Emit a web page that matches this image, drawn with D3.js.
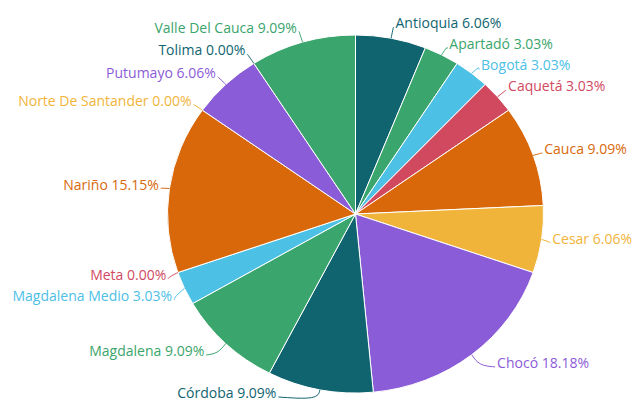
<!DOCTYPE html>
<html>
<head>
<meta charset="utf-8">
<script src="https://cdn.jsdelivr.net/npm/d3@7"></script>
<style>
  html, body { margin: 0; padding: 0; background: #ffffff; }
  svg { display: block; }
  text { font-family: "Open Sans", Roboto, "Noto Sans", sans-serif; }
</style>
</head>
<body>
<div id="chart"></div>
<script>
// ---- data ----
const categories = [
  "Antioquia", "Apartadó", "Bogotá", "Caquetá", "Cauca", "Cesar", "Chocó",
  "Córdoba", "Magdalena", "Magdalena Medio", "Meta", "Nariño",
  "Norte De Santander", "Putumayo", "Tolima", "Valle Del Cauca"
];
const values = [
  6.06, 3.03, 3.03, 3.03, 9.09, 6.06, 18.18,
  9.09, 9.09, 3.03, 0.00, 15.15,
  0.00, 6.06, 0.00, 9.09
];

// ---- style / layout ----
const palette = ["#0f6470", "#3aa56c", "#4dc0e6", "#d1495f", "#d8680a", "#f1b43a", "#8b5cd8"];
const W = 637, H = 403;
const cx = 355.5, cy = 214, rx = 188, ry = 179;
const color = d3.scaleOrdinal().domain(categories).range(palette);

const svg = d3.select("#chart").append("svg")
  .attr("width", W).attr("height", H)
  .attr("viewBox", `0 0 ${W} ${H}`);
svg.append("rect").attr("width", W).attr("height", H).attr("fill", "#fff");

const pie = d3.pie().sort(null).value(d => d.value);
const arcs = pie(categories.map((c, i) => ({ name: c, value: values[i] })));

const arc = d3.arc().innerRadius(0).outerRadius(ry);

const g = svg.append("g")
  .attr("transform", `translate(${cx},${cy}) scale(${rx / ry},1)`);

g.selectAll("path")
  .data(arcs.filter(d => d.data.value > 0))
  .join("path")
  .attr("d", arc)
  .attr("fill", d => color(d.data.name))
  .attr("stroke", "#ffffff")
  .attr("stroke-width", 1)
  .attr("vector-effect", "non-scaling-stroke");

// ---- labels ----
function pt(a, extra) {
  return [cx + (rx + extra) * Math.sin(a), cy - (ry + extra) * Math.cos(a)];
}
const GAP = 21;
const labels = arcs.map(d => {
  const a = (d.startAngle + d.endAngle) / 2;
  const edge = pt(a, 0);
  const extLen = 8 + 5 * Math.abs(Math.cos(a));
  const ext = pt(a, extLen);
  const yRef = pt(a, 13)[1];
  const side = Math.sin(a) >= 0 ? 1 : -1;
  const lowness = Math.max(0, -Math.cos(a));
  const len2 = 1 + 42 * Math.pow(lowness, 4);
  return {
    d, a, edge, ext, side,
    x: ext[0] + side * len2,
    y: yRef - 2,
    text: `${d.data.name} ${d.data.value.toFixed(2)}%`,
    col: color(d.data.name)
  };
});

// resolve collisions on each side
[1, -1].forEach(s => {
  const arr = labels.filter(l => l.side === s).sort((p, q) => p.y - q.y);
  for (let i = 1; i < arr.length; i++) {
    if (arr[i].y - arr[i - 1].y < GAP) arr[i].y = arr[i - 1].y + GAP;
  }
  const maxY = H - 10;
  if (arr.length && arr[arr.length - 1].y > maxY) {
    arr[arr.length - 1].y = maxY;
    for (let i = arr.length - 2; i >= 0; i--) {
      if (arr[i + 1].y - arr[i].y < GAP) arr[i].y = arr[i + 1].y - GAP;
    }
  }
});

const line = d3.line().curve(d3.curveBasis);

svg.append("g").selectAll("path")
  .data(labels)
  .join("path")
  .attr("d", l => line([l.edge, [l.ext[0], (l.ext[1] + l.y + 4) / 2], [l.x - l.side * 1, l.y + 4]]))
  .attr("fill", "none")
  .attr("stroke", l => l.col)
  .attr("stroke-width", 1);

svg.append("g").selectAll("text")
  .data(labels)
  .join("text")
  .attr("x", l => l.x + l.side * 1)
  .attr("y", l => l.y)
  .attr("dy", "0.35em")
  .attr("text-anchor", l => l.side > 0 ? "start" : "end")
  .attr("fill", l => l.col)
  .attr("font-size", 14)
  .text(l => l.text);
</script>
</body>
</html>
